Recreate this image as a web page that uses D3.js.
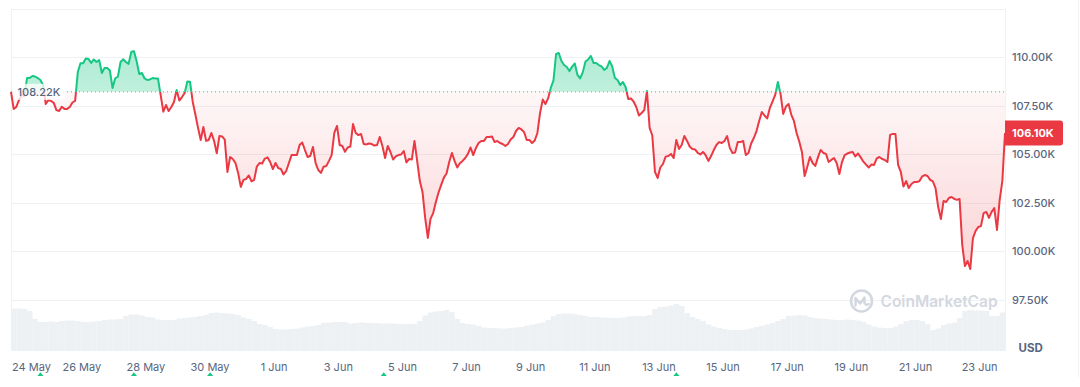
<!DOCTYPE html>
<html><head><meta charset="utf-8">
<script src="https://cdn.jsdelivr.net/npm/d3@7"></script>
<style>
html,body{margin:0;padding:0;background:#fff;}
svg{display:block;font-family:Inter,"Noto Sans",sans-serif;}
</style></head>
<body><svg id="chart" width="1080" height="387"></svg>
<script>
// ---------- DATA ----------
const startTime = "2025-05-23T19:00:00Z";
const priceStepHours = 2;
const priceK = [
108.22,107.34,107.44,107.80,108.06,108.00,108.93,108.93,109.04,109.01,
108.93,108.83,108.57,107.59,107.80,107.75,107.65,107.28,107.23,107.45,
107.34,107.34,107.44,107.67,107.75,109.24,109.69,109.69,109.94,109.91,
109.71,109.89,109.76,109.86,109.19,109.45,109.45,109.32,108.42,108.92,
109.00,109.76,109.90,109.76,109.66,110.27,110.32,109.81,109.14,109.19,
108.91,108.83,108.86,108.93,108.91,108.91,108.06,107.20,107.54,107.23,
107.44,107.70,108.32,107.77,107.95,108.16,108.75,108.74,107.71,107.05,
106.36,105.74,106.41,105.69,105.74,106.10,105.69,105.05,105.94,105.92,
105.76,104.09,104.86,104.76,104.55,104.04,103.32,103.68,103.73,103.91,
103.60,103.68,104.37,104.55,104.53,104.78,104.84,104.60,104.24,104.55,
104.29,104.24,103.96,104.14,104.55,104.96,104.96,104.96,105.48,105.61,
105.22,104.86,104.91,105.38,104.55,104.19,104.04,104.36,104.40,104.66,
104.96,106.10,106.46,105.48,105.43,105.13,105.35,105.40,106.56,106.10,
105.99,106.05,105.53,105.51,105.56,105.53,105.45,105.48,105.89,105.43,
104.81,105.43,105.12,104.73,104.89,104.96,104.99,105.17,104.58,104.76,
104.73,105.69,104.66,103.62,103.06,101.72,100.69,101.67,101.97,102.54,
103.03,103.42,103.80,104.01,104.60,105.07,104.66,104.32,104.54,104.66,
104.81,105.02,105.35,104.96,105.33,105.58,105.69,105.69,105.89,105.89,
105.92,105.63,105.69,105.58,105.53,105.43,105.53,105.76,105.89,106.20,
106.36,106.28,106.15,105.74,105.74,105.58,105.71,106.10,107.13,107.82,
107.59,107.88,108.42,108.80,110.17,110.22,109.81,109.60,109.50,109.29,
109.52,109.68,109.09,108.91,109.24,109.78,109.89,110.07,109.71,109.71,
109.60,109.53,109.35,109.45,109.81,109.53,108.93,108.83,108.57,108.73,
108.47,107.85,107.88,107.72,107.44,107.00,107.13,107.28,108.26,106.36,
105.97,104.09,103.78,104.32,104.50,104.88,104.91,105.02,104.81,105.74,
105.27,105.48,105.94,105.69,105.40,105.27,105.25,105.07,104.99,105.12,
104.94,104.66,104.91,105.22,105.48,105.63,105.58,105.69,105.94,105.33,
105.07,105.09,105.63,105.63,105.69,104.96,105.07,105.56,105.84,106.20,
106.72,107.18,107.00,106.85,107.39,107.72,108.06,108.73,108.11,107.08,
107.46,107.59,107.05,106.72,106.10,105.66,105.12,103.88,104.35,104.86,
104.55,104.40,104.84,105.22,105.07,105.02,104.60,104.71,104.81,104.55,
103.98,104.60,104.96,105.04,105.09,105.12,104.89,105.04,104.84,104.62,
104.47,104.32,104.47,104.45,104.79,104.86,104.76,104.71,104.60,106.00,
106.05,106.05,104.45,104.09,103.34,103.62,103.26,103.47,103.57,103.57,
103.62,103.86,103.93,103.88,103.68,103.60,103.26,102.28,101.66,102.59,
102.54,102.75,102.80,102.70,102.65,102.70,100.32,99.24,99.50,99.09,
100.68,101.05,101.25,101.30,101.97,102.03,101.72,102.03,102.23,101.10,
102.64,103.62,106.10
];
const volumeStepHours = 4;
const volumeB = [
42.5,42.5,42,40,32,29,29,29.5,29,30,
30.5,30.5,30,29,29,29.5,30,31,31.5,31.5,
32,35,36.5,36.5,35.5,34,33.5,31.5,31,31,
31,32.5,33,33.5,34,35,36,38,38.5,38,
37.5,37,36,33.5,32,30,27,26,24,22,
21.5,21.5,22,22.5,23.5,24.5,25,26,28,28.5,
29,29,29,27.5,28,28.5,28,28,28,27.5,
27.5,27.5,27,27,27,27,30,35.5,38.5,39.5,
40,41,39,32,28,27,26.5,25,23.5,23,
23,22.5,22.5,23,23.5,24,25.5,26.5,27.5,28.5,
31,35,37,37.5,37.5,37,36,35,34,34,
33.5,33.5,33,33,33.5,34.5,35,35,35,36,
42,44,44.5,45.5,47,45,38,34,32,30,
26.5,24.5,23,22,21,21,21,21.5,22.5,24,
25,26.5,28,30,32,35,35.5,36,35.5,34,
33,32.5,32,31.5,31,31,31.5,31,30.5,29,
26.5,24.5,23.5,23,23,24.5,27,30,31,31,
30,27,21,22.5,26,27.5,28.5,33,40,41,
40.5,40.5,40,35,35,38.5
];
const baselineK = 108.22;
const lastPriceK = 106.10;
const yTickK = [97.5, 100, 102.5, 105, 107.5, 110];
const gridK = [97.5, 100, 102.5, 105, 107.5, 110, 112.5];
const xTickDates = ["2025-05-24","2025-05-26","2025-05-28","2025-05-30","2025-06-01","2025-06-03",
  "2025-06-05","2025-06-07","2025-06-09","2025-06-11","2025-06-13","2025-06-15","2025-06-17",
  "2025-06-19","2025-06-21","2025-06-23"];
const eventTimes = ["2025-05-24T17:00:00Z","2025-05-27T15:00:00Z","2025-05-30T00:00:00Z",
  "2025-06-04T10:00:00Z","2025-06-13T13:00:00Z"];
const currencyLabel = "USD";
const watermark = "CoinMarketCap";

// ---------- CHART ----------
const HOUR = 3600 * 1000;
const t0 = new Date(startTime);
const prices = priceK.map((v, i) => ({ t: new Date(+t0 + i * priceStepHours * HOUR), v }));
const tEnd = prices[prices.length - 1].t;
const vols = volumeB.map((v, i) => ({ t: new Date(+t0 + i * volumeStepHours * HOUR), v }));

const L = 11, R = 1005, TOP = 8.8, BOT = 351;
const RED = "#ea3943", GREEN = "#16c784", TXT = "#58667e", GRID = "#eff2f5";

const svg = d3.select("#chart");
const x = d3.scaleUtc().domain([t0, tEnd]).range([L, R]);
const y = d3.scaleLinear().domain([97.5, 112.5]).range([299.8, TOP]);
const yVol = d3.scaleLinear().domain([0, 60]).range([BOT, BOT - 60]);
const yBase = y(baselineK);

const defs = svg.append("defs");
const rg = defs.append("linearGradient").attr("id", "redGrad").attr("gradientUnits", "userSpaceOnUse")
  .attr("x1", 0).attr("x2", 0).attr("y1", yBase).attr("y2", y(99));
rg.append("stop").attr("offset", 0).attr("stop-color", RED).attr("stop-opacity", 0.04);
rg.append("stop").attr("offset", 1).attr("stop-color", RED).attr("stop-opacity", 0.22);
const gg = defs.append("linearGradient").attr("id", "greenGrad").attr("gradientUnits", "userSpaceOnUse")
  .attr("x1", 0).attr("x2", 0).attr("y1", y(110.5)).attr("y2", yBase);
gg.append("stop").attr("offset", 0).attr("stop-color", GREEN).attr("stop-opacity", 0.36);
gg.append("stop").attr("offset", 1).attr("stop-color", GREEN).attr("stop-opacity", 0.27);
defs.append("clipPath").attr("id", "clipAbove").append("rect")
  .attr("x", L - 2).attr("y", 0).attr("width", R - L + 4).attr("height", yBase);
defs.append("clipPath").attr("id", "clipBelow").append("rect")
  .attr("x", L - 2).attr("y", yBase).attr("width", R - L + 4).attr("height", 400);

// outer border (right)
svg.append("line").attr("x1", 1078.5).attr("x2", 1078.5).attr("y1", 0).attr("y2", 377)
  .attr("stroke", GRID).attr("stroke-width", 1);

// gridlines
svg.append("g").selectAll("line").data(gridK).join("line")
  .attr("x1", L).attr("x2", R).attr("y1", d => Math.round(y(d)) + 0.5).attr("y2", d => Math.round(y(d)) + 0.5)
  .attr("stroke", GRID).attr("stroke-width", 1);
svg.append("line").attr("x1", L + 0.5).attr("x2", L + 0.5).attr("y1", TOP).attr("y2", BOT).attr("stroke", GRID);
svg.append("line").attr("x1", R + 0.5).attr("x2", R + 0.5).attr("y1", TOP).attr("y2", BOT).attr("stroke", GRID);

// volume bars
svg.append("g").selectAll("rect").data(vols).join("rect")
  .attr("x", d => x(d.t))
  .attr("width", d => Math.min(R, x(new Date(+d.t + volumeStepHours * HOUR))) - x(d.t) + 0.2)
  .attr("y", d => yVol(d.v)).attr("height", d => BOT - yVol(d.v))
  .attr("fill", "#eef1f4");

// watermark
const wm = svg.append("g");
wm.append("circle").attr("cx", 861.5).attr("cy", 301).attr("r", 10.5)
  .attr("fill", "none").attr("stroke", "#d3d8e0").attr("stroke-width", 2.6);
wm.append("path").attr("d", "M855.5,305.5 L855.5,298 L860,303.5 L864.5,297.5 L864.5,303 Q866,306 868.5,304")
  .attr("fill", "none").attr("stroke", "#d3d8e0").attr("stroke-width", 2.4).attr("stroke-linejoin", "round").attr("stroke-linecap", "round");
wm.append("text").attr("x", 880.5).attr("y", 306.5).text(watermark)
  .attr("font-size", 15.5).attr("font-weight", 600).attr("fill", "#d3d8e0");

// areas
const area = d3.area().x(d => x(d.t)).y0(yBase).y1(d => y(d.v));
svg.append("path").datum(prices).attr("d", area).attr("fill", "url(#redGrad)").attr("clip-path", "url(#clipBelow)");
svg.append("path").datum(prices).attr("d", area).attr("fill", "url(#greenGrad)").attr("clip-path", "url(#clipAbove)");

// baseline dotted
svg.append("line").attr("x1", L).attr("x2", R).attr("y1", yBase).attr("y2", yBase)
  .attr("stroke", "#8a93a3").attr("stroke-width", 1).attr("stroke-dasharray", "1,3");

// price line
const line = d3.line().x(d => x(d.t)).y(d => y(d.v));
svg.append("path").datum(prices).attr("d", line).attr("fill", "none").attr("stroke", RED)
  .attr("stroke-width", 2).attr("stroke-linejoin", "round").attr("clip-path", "url(#clipBelow)");
svg.append("path").datum(prices).attr("d", line).attr("fill", "none").attr("stroke", GREEN)
  .attr("stroke-width", 2).attr("stroke-linejoin", "round").attr("clip-path", "url(#clipAbove)");

// baseline label
svg.append("rect").attr("x", 14).attr("y", yBase - 8).attr("width", 51).attr("height", 16)
  .attr("fill", "#fff").attr("opacity", 0.78);
svg.append("text").attr("x", 17.5).attr("y", yBase + 4).text(d3.format(".2f")(baselineK) + "K")
  .attr("font-size", 11).attr("font-weight", 500).attr("fill", TXT);

// right axis labels
svg.append("g").selectAll("text").data(yTickK).join("text")
  .attr("x", 1012).attr("y", d => y(d) + 4).text(d => d3.format(".2f")(d) + "K")
  .attr("font-size", 11).attr("font-weight", 500).attr("fill", TXT);

// last price badge
const yLast = y(lastPriceK);
svg.append("path")
  .attr("d", `M${R},${yLast - 12.5} H${1060} a3,3 0 0 1 3,3 V${yLast + 9.5} a3,3 0 0 1 -3,3 H${R} Z`)
  .attr("fill", RED);
svg.append("text").attr("x", 1012).attr("y", yLast + 4).text(d3.format(".2f")(lastPriceK) + "K")
  .attr("font-size", 11).attr("font-weight", 700).attr("fill", "#fff");

// x axis labels
const fmt = d3.utcFormat("%-d %b");
svg.append("g").selectAll("text").data(xTickDates.map(s => new Date(s + "T00:00:00Z"))).join("text")
  .attr("y", 370.5).attr("font-size", 11).attr("fill", TXT).attr("text-anchor", "start")
  .text(d => fmt(d))
  .each(function (d) {
    const w = this.getComputedTextLength();
    let sx = x(d) - w / 2;
    if (sx < 12) sx = 12;
    d3.select(this).attr("x", sx);
  });

// event markers
svg.append("g").selectAll("path").data(eventTimes.map(s => new Date(s))).join("path")
  .attr("d", d => { const cx = x(d); return `M${cx - 3},376 L${cx + 3},376 L${cx},372.3 Z`; })
  .attr("fill", GREEN);

// currency
svg.append("text").attr("x", 1018.5).attr("y", 351.5).text(currencyLabel)
  .attr("font-size", 11.5).attr("font-weight", 700).attr("fill", TXT);
</script>
</body></html>
